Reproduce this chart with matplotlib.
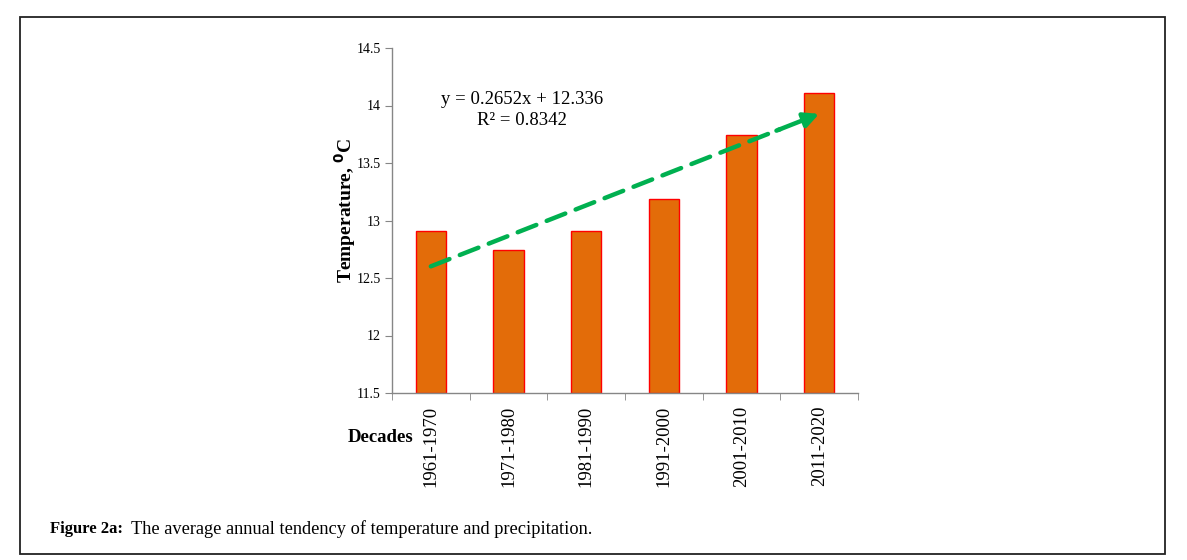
import matplotlib
matplotlib.use('Agg')
import matplotlib.pyplot as plt
from matplotlib.patches import Rectangle
import numpy as np

# chart data
decades = ['1961-1970', '1971-1980', '1981-1990', '1991-2000', '2001-2010', '2011-2020']
temps = [12.91, 12.74, 12.91, 13.19, 13.74, 14.11]
slope = 0.2652
intercept = 12.336
r2 = 0.8342
yticks = [11.5, 12, 12.5, 13, 13.5, 14, 14.5]

plt.rcParams['font.family'] = ['Liberation Serif', 'DejaVu Serif']

W, H = 1187, 560
fig = plt.figure(figsize=(W / 100, H / 100), dpi=100)
fig.patch.set_facecolor('white')

# outer frame
fig.patches.append(Rectangle((20 / W, 1 - 554 / H), (1165 - 20) / W, (554 - 17) / H,
                             transform=fig.transFigure, fill=False,
                             edgecolor='#222222', linewidth=1.3))

ax = fig.add_axes([392 / W, 1 - 393 / H, (858 - 392) / W, (393 - 48) / H])
x = np.arange(len(decades))
ax.bar(x, [t - 11.5 for t in temps], bottom=11.5, width=0.39,
       color='#E36C09', edgecolor='#FF0000', linewidth=1.0, zorder=2)

ax.set_xlim(-0.5, len(decades) - 0.5)
ax.set_ylim(11.5, 14.5)
ax.set_yticks(yticks)
ax.set_yticklabels([f'{v:g}' for v in yticks], fontsize=10)
ax.set_xticks(x)
ax.set_xticklabels(decades, rotation=90, fontsize=13.5)
ax.set_xticks(np.arange(len(decades) + 1) - 0.5, minor=True)
ax.tick_params(axis='x', which='major', length=0, pad=9)
ax.tick_params(axis='x', which='minor', length=5, color='#868686', direction='out')
ax.tick_params(axis='y', length=5, color='#868686', direction='out', pad=3)

for s in ['top', 'right']:
    ax.spines[s].set_visible(False)
for s in ['left', 'bottom']:
    ax.spines[s].set_color('#868686')
    ax.spines[s].set_linewidth(1.0)

# linear trend as dashed arrow
xs = np.array([1, 6])
ys = slope * xs + intercept
t_end = 0.9
xe = (xs[0] - 1) + t_end * (xs[1] - xs[0])
ye = ys[0] + t_end * (ys[1] - ys[0])
ax.plot([xs[0] - 1, xe], [ys[0], ye], color='#00B050', linewidth=3.2,
        linestyle=(0, (4.5, 2.5)), dash_capstyle='round', zorder=3)
ax.annotate('', xy=(xs[1] - 1, ys[1]), xytext=(xe - 0.05, ye - 0.05 * slope),
            arrowprops=dict(arrowstyle='-|>,head_length=0.9,head_width=0.45',
                            color='#00B050', linewidth=3.2, shrinkA=0, shrinkB=0),
            zorder=4)

ax.text(1.17, 14.05, f'y = {slope}x + {intercept}', fontsize=13.5, ha='center', va='center')
ax.text(1.17, 13.87, f'R² = {r2}', fontsize=13.5, ha='center', va='center')

ax.set_ylabel('Temperature, $^{\\mathbf{0}}$C', fontsize=14, fontweight='bold')
ax.yaxis.set_label_coords(-0.073, 0.53)

fig.text(348 / W, 1 - 437 / H, 'Decades', fontsize=13.5, fontweight='bold',
         ha='left', va='center')

fig.text(50 / W, 1 - 529 / H, 'Figure 2a:', fontsize=12, fontweight='bold',
         ha='left', va='center')
fig.text(131 / W, 1 - 529 / H, 'The average annual tendency of temperature and precipitation.',
         fontsize=13.2, ha='left', va='center')

fig.savefig('out.png', dpi=100)
